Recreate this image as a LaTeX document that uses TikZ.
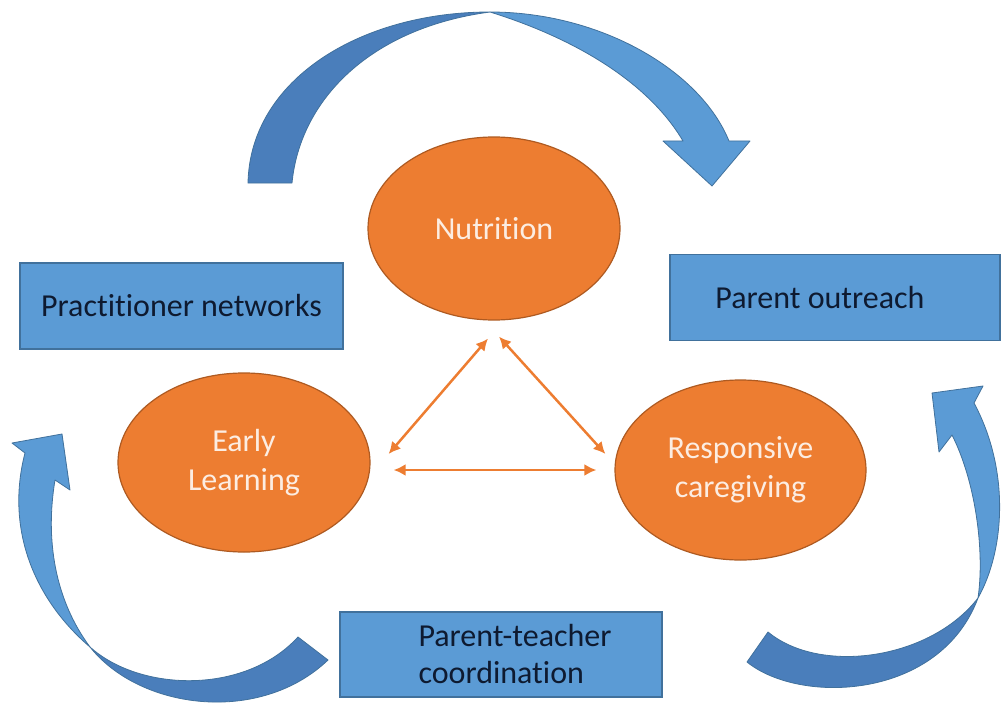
\documentclass[tikz,border=0pt]{standalone}
\usepackage{xcolor}
\usepackage{fontspec}
\setmainfont{Carlito}[Ligatures=NoCommon]
\usepackage{tikz}
\usetikzlibrary{calc}
\usetikzlibrary{shapes,arrows,arrows.meta,positioning}
\usetikzlibrary{shapes.geometric}

\definecolor{boxblue}{HTML}{5B9BD5}
\definecolor{boxline}{HTML}{41719C}
\definecolor{darkblue}{HTML}{4A7EBB}
\definecolor{blobfill}{HTML}{ED7D31}
\definecolor{blobline}{HTML}{AE5A21}
\definecolor{boxtextcol}{HTML}{0E1A30}
\definecolor{blobtextcol}{HTML}{FCEDE2}

\begin{document}
\begin{tikzpicture}[x=0.5pt,y=-0.5pt,
		box/.style={draw=boxline,fill=boxblue,line width=0.6pt,inner sep=0pt,minimum height=43pt,text=boxtextcol,font=\fontsize{16}{19}\selectfont},
		blob/.style={ellipse,draw=blobline,fill=blobfill,line width=0.6pt,inner sep=0pt,text=blobtextcol,align=center,font=\fontsize{16}{19.5}\selectfont},
		link/.style={{Latex[length=6pt,width=6pt]}-{Latex[length=6pt,width=6pt]},blobfill,line width=1.25pt},
		band/.style={draw=boxline,line width=0.4pt,line join=round}]
		\useasboundingbox (0,0) rectangle (1001,706);
		\clip (0,0) rectangle (1001,706);
		
		% curved arrows
		\filldraw[band,fill=darkblue] (248,183) .. controls (250,80) and (360,12) .. (490,12) .. controls (370,28) and (300,100) .. (292,183) -- cycle;
		\filldraw[band,fill=boxblue] (490,12) .. controls (600,12) and (700,70) .. (729,141) -- (750,141) -- (712,186) -- (663,141) -- (683,141) .. controls (650,85) and (580,40) .. (490,12) -- cycle;
		
		\filldraw[band,fill=darkblue] (90,647) .. controls (140,710) and (260,725) .. (328,660) -- (298,637) .. controls (245,695) and (140,692) .. (90,647) -- cycle;
		\filldraw[band,fill=boxblue] (90,647) .. controls (35,600) and (5,530) .. (25,453) -- (12,443) -- (62,434) -- (70,490) -- (55,480) .. controls (45,540) and (55,600) .. (90,647) -- cycle;
		
		\filldraw[band,fill=darkblue] (747,662) .. controls (800,705) and (940,700) .. (978,598) .. controls (930,660) and (820,675) .. (768,632) -- cycle;
		\filldraw[band,fill=boxblue] (978,598) .. controls (1005,550) and (1010,470) .. (974,403) -- (983,386) -- (932,393) -- (939,452) -- (952,435) .. controls (975,480) and (985,550) .. (978,598) -- cycle;
		
		% boxes
		\node (prac) [box,minimum width=161.5pt] at (181.5,306) {Practitioner networks};
		\node (outr) [box,minimum width=165pt,label={[text=boxtextcol,font=\fontsize{16}{19}\selectfont,xshift=-7.5pt]center:Parent outreach}] at (835,297.5) {};
		\node (ptc) [box,minimum width=161pt,minimum height=42.5pt,label={[text=boxtextcol,font=\fontsize{16}{18.5}\selectfont,align=left,xshift=7pt]center:{Parent-teacher\\coordination}}] at (501,654.5) {};
		
		% ellipses
		\node (nut) [blob,minimum width=126pt,minimum height=91.5pt] at (494,228.5) {Nutrition};
		\node (early) [blob,minimum width=126pt,minimum height=89.5pt] at (244,462.5) {Early\\Learning};
		\node (resp) [blob,minimum width=125.5pt,minimum height=90pt] at (740.5,470) {Responsive\\caregiving};
		
		\draw[link] ([shift={(-6,18)}]nut.south) -- ([shift={(18,-8.5)}]early.east);
		\draw[link] ([shift={(5,16)}]nut.south) -- ([shift={(-9,-16)}]resp.west);
		\draw[link] ([shift={(23,7.5)}]early.east) -- ([shift={(-18,0)}]resp.west);
	\end{tikzpicture}
\end{document}
